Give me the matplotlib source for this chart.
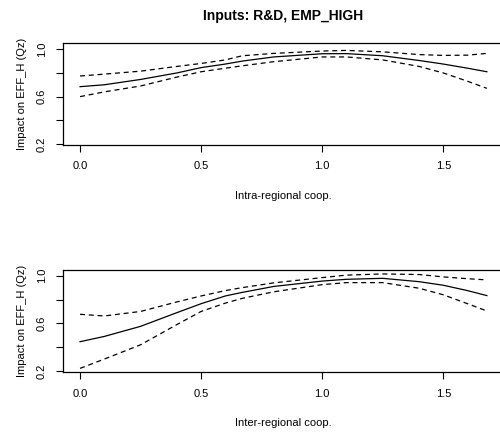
import matplotlib
matplotlib.use("Agg")
import matplotlib.pyplot as plt

plt.rcParams['font.family'] = ['Liberation Sans', 'DejaVu Sans']

# x grid shared by both panels
x = [0.0, 0.1, 0.25, 0.4, 0.5, 0.6, 0.67, 0.8, 1.0, 1.1, 1.25, 1.4, 1.5, 1.6, 1.68]

# panel 1: Intra-regional coop.
intra_fit = [0.684, 0.70, 0.745, 0.80, 0.845, 0.875, 0.900, 0.935, 0.962, 0.963, 0.945, 0.905, 0.875, 0.84, 0.81]
intra_upper = [0.774, 0.79, 0.815, 0.855, 0.88, 0.91, 0.945, 0.965, 0.985, 0.99, 0.978, 0.955, 0.948, 0.95, 0.965]
intra_lower = [0.60, 0.64, 0.69, 0.765, 0.81, 0.84, 0.86, 0.895, 0.935, 0.935, 0.91, 0.855, 0.80, 0.73, 0.67]

# panel 2: Inter-regional coop.
inter_fit = [0.446, 0.49, 0.575, 0.69, 0.765, 0.83, 0.86, 0.91, 0.955, 0.97, 0.978, 0.95, 0.92, 0.875, 0.833]
inter_upper = [0.676, 0.662, 0.70, 0.78, 0.83, 0.875, 0.90, 0.94, 0.984, 1.005, 1.015, 1.01, 0.99, 0.975, 0.965]
inter_lower = [0.222, 0.30, 0.42, 0.59, 0.70, 0.77, 0.81, 0.865, 0.925, 0.942, 0.942, 0.895, 0.84, 0.765, 0.704]

xticks = [0.0, 0.5, 1.0, 1.5]
yticks = [0.2, 0.4, 0.6, 0.8, 1.0]
ylabels = ['0.2', '', '0.6', '', '1.0']

fig = plt.figure(figsize=(5, 4.32), dpi=100)

panels = [
    ([0.1267, 0.665, 0.879, 0.235], intra_fit, intra_upper, intra_lower, 'Intra-regional coop.', (0.194, 1.051)),
    ([0.1267, 0.1382, 0.879, 0.2368], inter_fit, inter_upper, inter_lower, 'Inter-regional coop.', (0.189, 1.048)),
]

for i, (pos, fit, up, lo, xlab, ylim) in enumerate(panels):
    ax = fig.add_axes(pos)
    ax.plot(x, fit, color='black', lw=0.9)
    ax.plot(x, up, color='black', lw=0.9, linestyle=(0, (4, 3)))
    ax.plot(x, lo, color='black', lw=0.9, linestyle=(0, (4, 3)))
    ax.set_xlim(-0.069, 1.746)
    ax.set_ylim(*ylim)
    ax.set_xticks(xticks)
    ax.set_xticklabels(['0.0', '0.5', '1.0', '1.5'])
    ax.set_yticks(yticks)
    ax.set_yticklabels(ylabels, rotation=90, va='center')
    ax.tick_params(direction='out', length=5, width=0.8, labelsize=8, pad=7)
    for s in ax.spines.values():
        s.set_linewidth(0.9)
    ax.set_xlabel(xlab, fontsize=8, labelpad=14)
    ax.set_ylabel('Impact on EFF_H (Qz)', fontsize=8, labelpad=7)
    if i == 0:
        ax.set_title('Inputs: R&D, EMP_HIGH', fontsize=10, fontweight='bold', pad=17)

fig.savefig('out.png', dpi=100)
